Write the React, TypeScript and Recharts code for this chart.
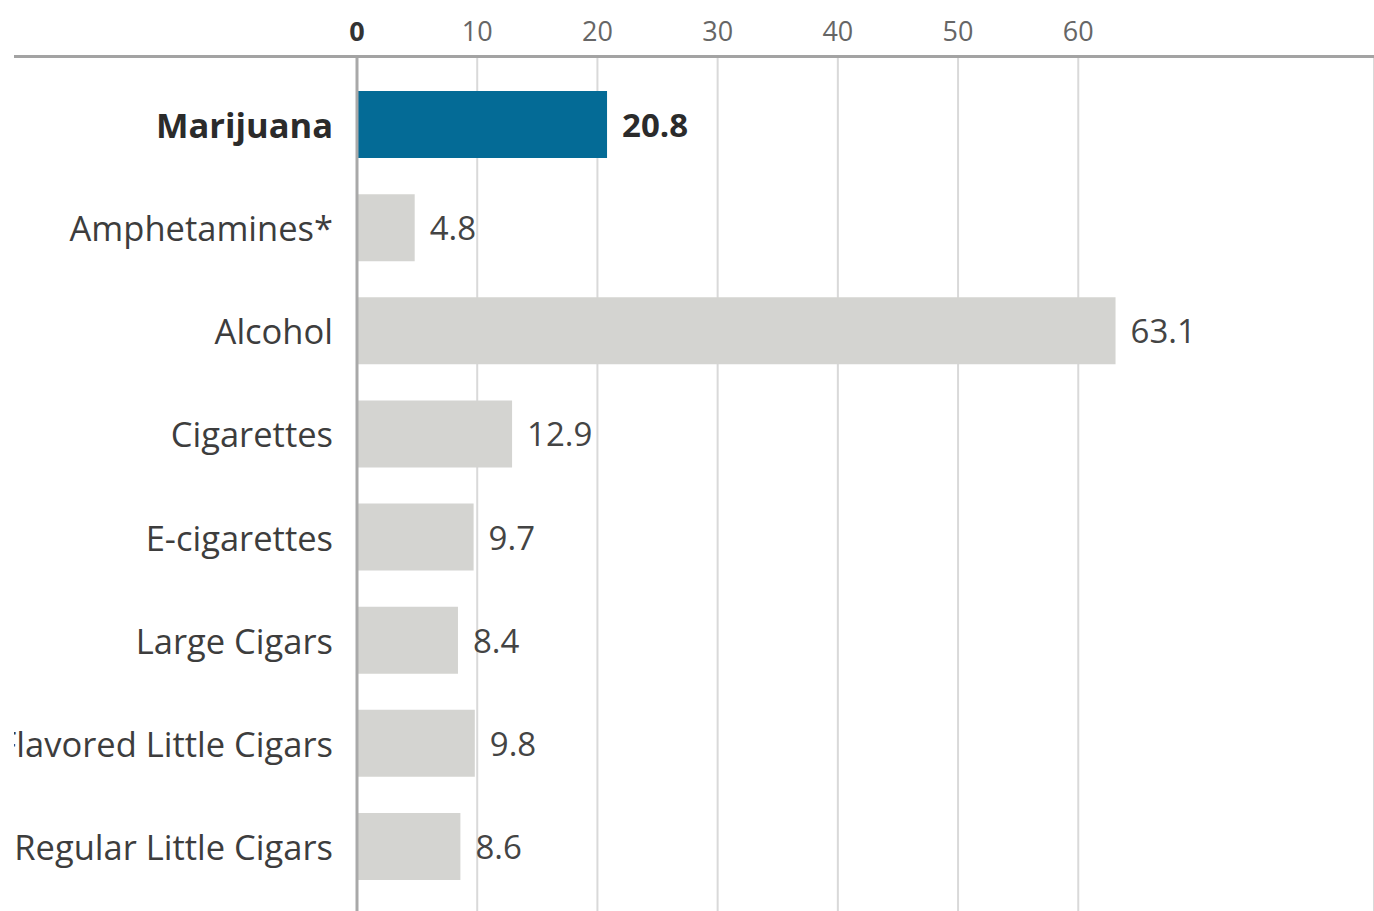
import { BarChart, Bar, XAxis, YAxis, CartesianGrid, Cell, LabelList } from "recharts";

const substances = [
  "Marijuana",
  "Amphetamines*",
  "Alcohol",
  "Cigarettes",
  "E-cigarettes",
  "Large Cigars",
  "Flavored Little Cigars",
  "Regular Little Cigars",
];
const percentUsed = [20.8, 4.8, 63.1, 12.9, 9.7, 8.4, 9.8, 8.6];
const xTicks = [0, 10, 20, 30, 40, 50, 60];
const highlight = "Marijuana";

const rows = substances.map((name, i) => ({ name, value: percentUsed[i] }));

const FONT = "'Open Sans', 'Liberation Sans', sans-serif";

function YTick({ x, y, payload }: any) {
  const bold = payload.value === highlight;
  return (
    <text
      x={x}
      y={y}
      textAnchor="end"
      dominantBaseline="central"
      fontFamily={FONT}
      fontSize={34.5}
      fontWeight={bold ? 700 : 400}
      fill={bold ? "#2b2b2b" : "#3d3d3d"}
    >
      {payload.value}
    </text>
  );
}

function XTick({ x, y, payload }: any) {
  const zero = payload.value === 0;
  return (
    <text
      x={x}
      y={y}
      textAnchor="middle"
      fontFamily={FONT}
      fontSize={27}
      fontWeight={zero ? 700 : 400}
      fill={zero ? "#333" : "#666"}
    >
      {payload.value}
    </text>
  );
}

function ValueLabel({ x, y, width, height, value, index }: any) {
  const bold = substances[index] === highlight;
  return (
    <text
      x={x + width + 15}
      y={y + height / 2}
      dominantBaseline="central"
      fontFamily={FONT}
      fontSize={33}
      fontWeight={bold ? 700 : 400}
      fill={bold ? "#2b2b2b" : "#444"}
    >
      {value}
    </text>
  );
}

export default function App() {
  return (
    <div style={{ position: "absolute", left: 0, top: 0, width: 1374, height: 911, background: "#fff", overflow: "hidden" }}>
      <div style={{ position: "absolute", left: 14, top: 0, width: 1360, height: 911, overflow: "hidden" }}>
        <div style={{ position: "absolute", left: -100, top: 0 }}>
          <BarChart
            width={1460}
            height={911}
            data={rows}
            layout="vertical"
            margin={{ top: 0, right: 0, bottom: 0, left: 0 }}
          >
            <CartesianGrid horizontal={false} stroke="#d9d9d9" strokeWidth={2} />
            <XAxis
              type="number"
              orientation="top"
              domain={[0, 84.6]}
              ticks={xTicks}
              allowDataOverflow
              height={57}
              axisLine={false}
              tickLine={false}
              tickSize={0}
              tickMargin={16}
              tick={<XTick />}
            />
            <YAxis
              type="category"
              dataKey="name"
              width={443}
              padding={{ top: 16, bottom: 13 }}
              axisLine={{ stroke: "#a9a9a9", strokeWidth: 3 }}
              tickLine={false}
              tickSize={0}
              tickMargin={24}
              tick={<YTick />}
              interval={0}
            />
            <Bar dataKey="value" barSize={67} isAnimationActive={false}>
              {rows.map((r) => (
                <Cell key={r.name} fill={r.name === highlight ? "#046b96" : "#d4d4d1"} />
              ))}
              <LabelList dataKey="value" content={<ValueLabel />} />
            </Bar>
          </BarChart>
        </div>
        <div style={{ position: "absolute", left: 0, top: 55, width: 1360, height: 3, background: "#a3a3a3" }} />
      </div>
    </div>
  );
}
